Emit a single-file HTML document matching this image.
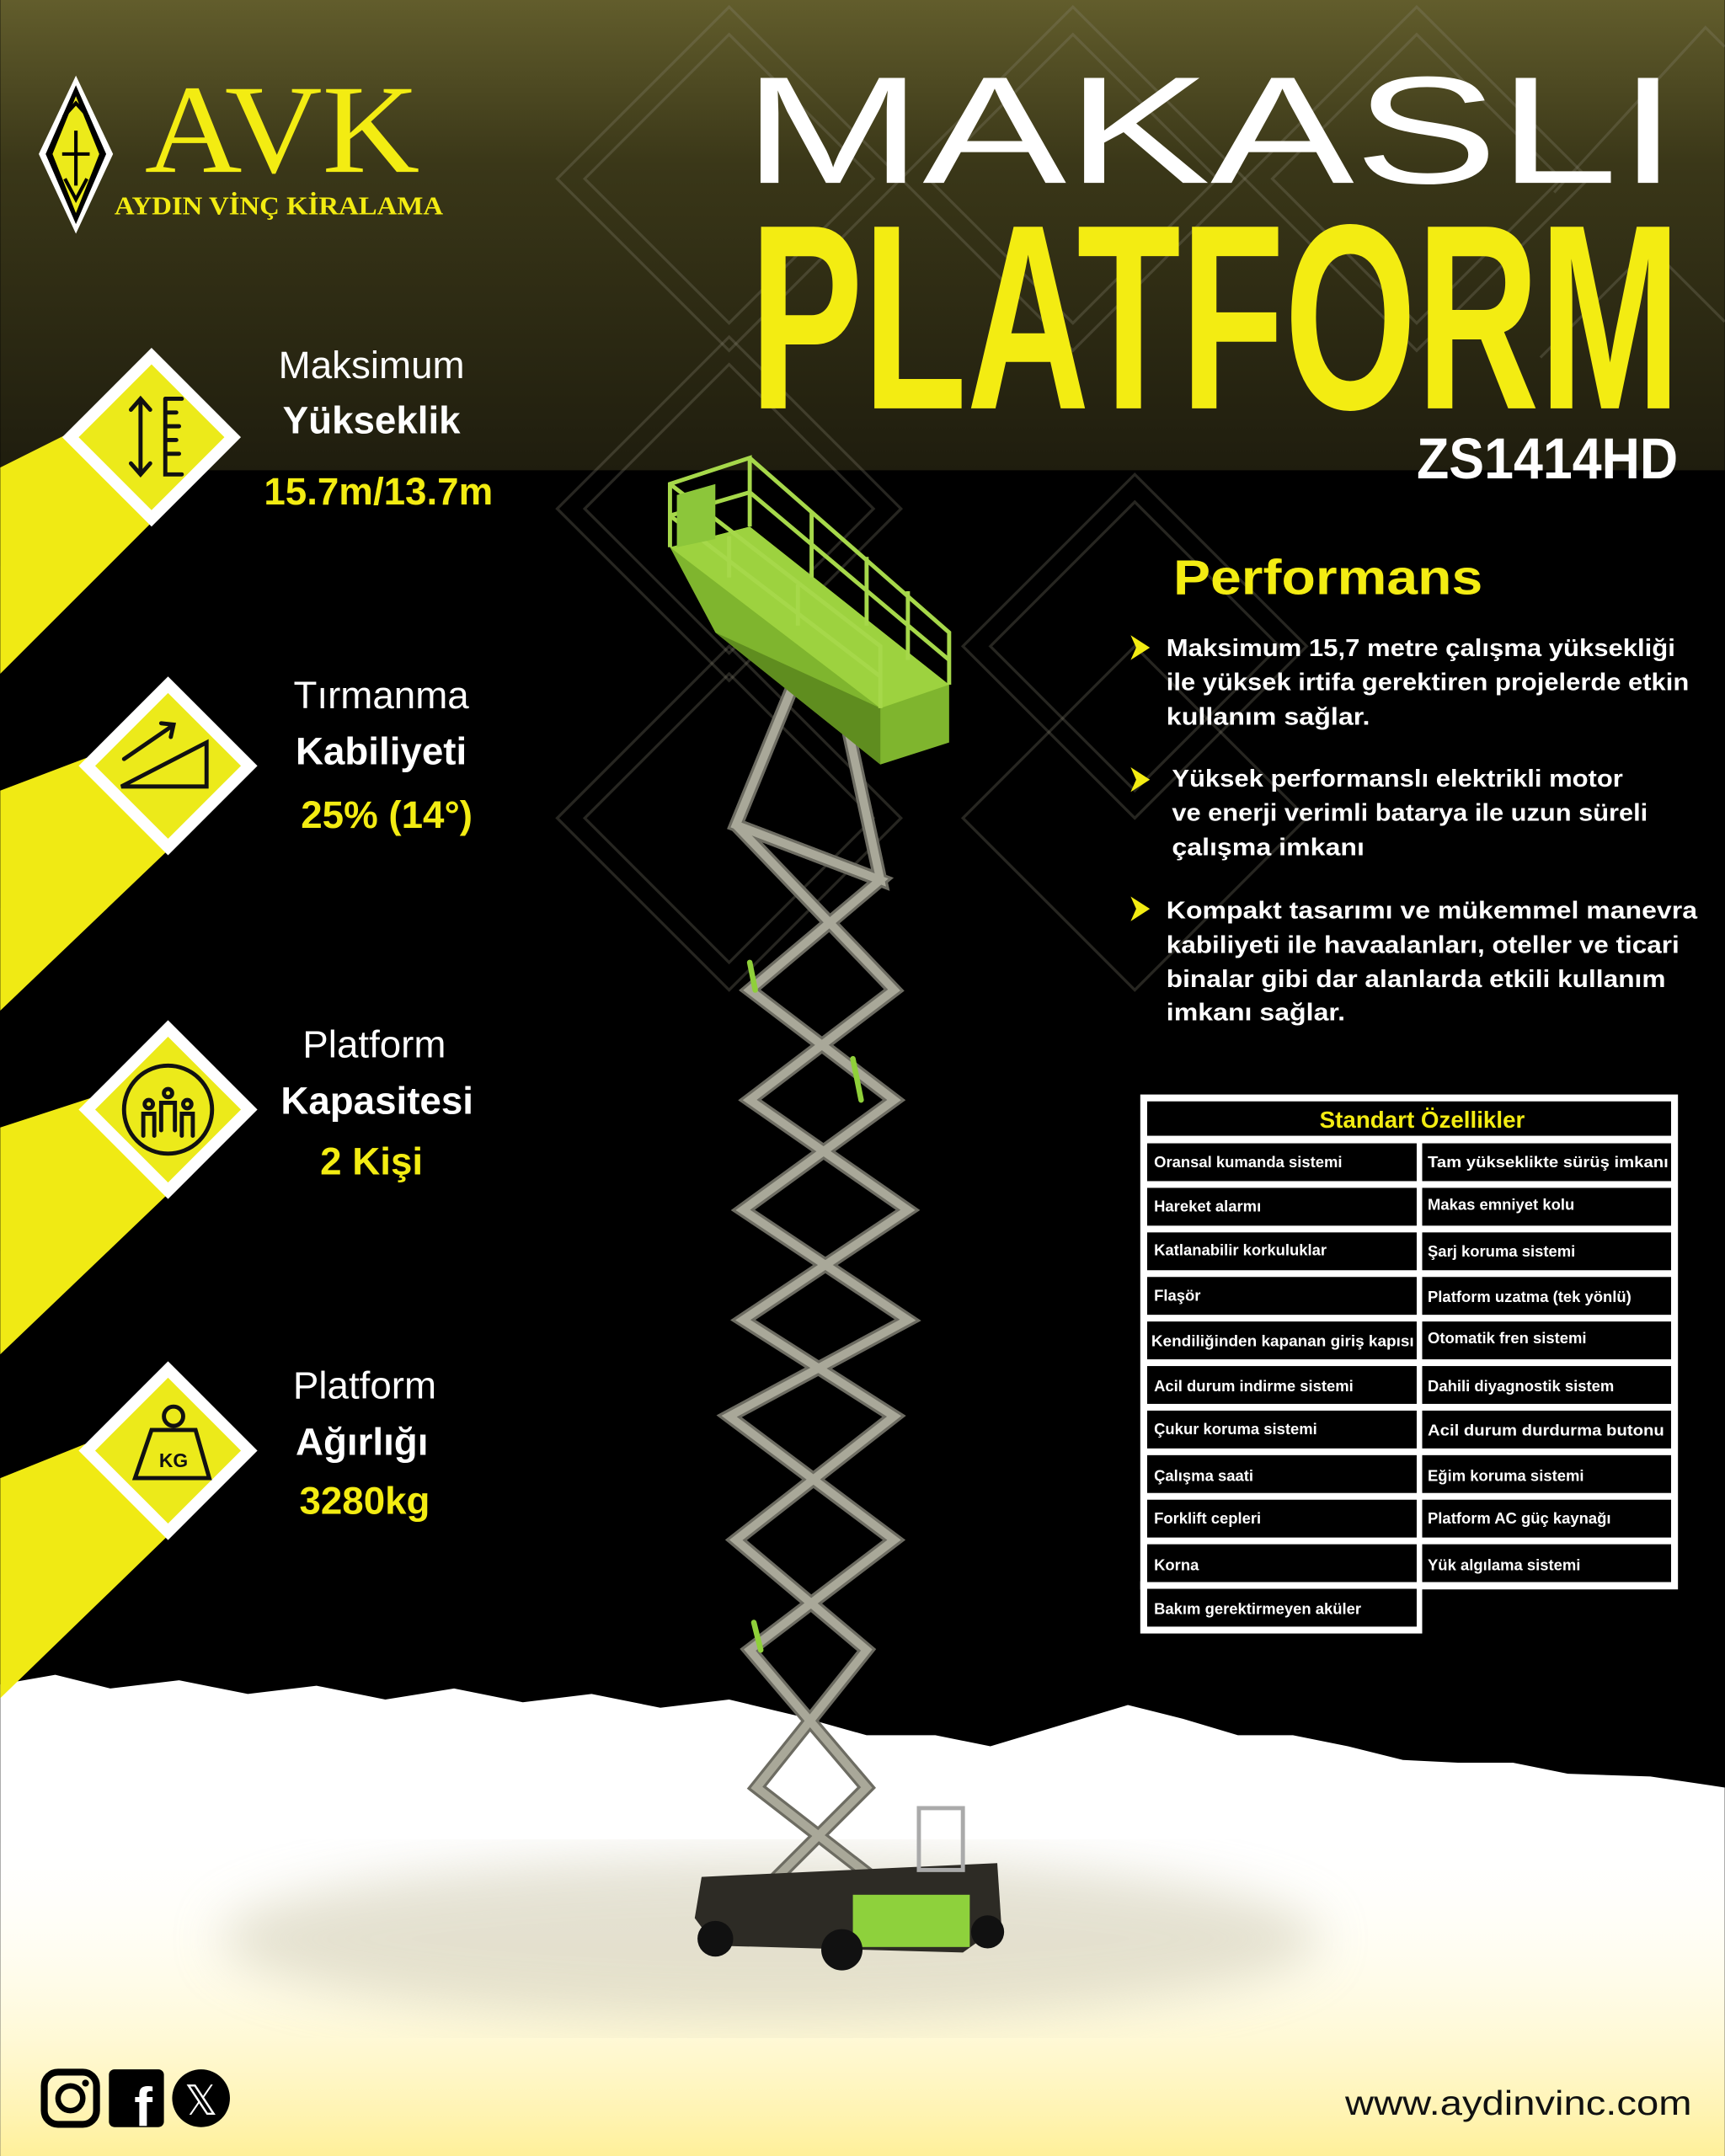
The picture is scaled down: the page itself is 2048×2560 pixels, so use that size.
<!DOCTYPE html>
<html><head><meta charset="utf-8"><style>
html,body{margin:0;padding:0;background:#000;}
svg{display:block;}
text{font-family:"Liberation Sans","DejaVu Sans",sans-serif;}
.w{fill:#fff;}
.y{fill:#f3ec12;}
.b{font-weight:bold;}
.c{fill:#fff;font-weight:bold;font-size:11.3px;}
</style></head><body>
<svg width="2048" height="2560" viewBox="0 0 1254 1568" xmlns="http://www.w3.org/2000/svg">
<defs>
<linearGradient id="top" x1="0" y1="0" x2="0" y2="1">
<stop offset="0" stop-color="#625d2c"/><stop offset="0.35" stop-color="#3a3718"/><stop offset="1" stop-color="#1f1d0e"/></linearGradient>
<linearGradient id="bot" x1="0" y1="0" x2="0" y2="1">
<stop offset="0" stop-color="#fff" stop-opacity="0"/><stop offset="1" stop-color="#fff09a"/></linearGradient>
<filter id="bl"><feGaussianBlur stdDeviation="18"/></filter>
</defs>
<rect width="1254" height="1568" fill="#000"/>
<rect width="1254" height="342" fill="url(#top)"/>
<g fill="none" stroke="#8c8a78" stroke-opacity="0.28" stroke-width="2">
<path d="M405 130 L530 5 L655 130 L530 255Z M425 130 L530 25 L635 130 L530 235Z"/>
<path d="M655 130 L780 5 L905 130 L780 255Z M675 130 L780 25 L885 130 L780 235Z"/>
<path d="M905 130 L1030 5 L1155 130 L1030 255Z M925 130 L1030 25 L1135 130 L1030 235Z"/>
<path d="M1130 140 L1240 20 L1254 34"/>
<path d="M405 370 L530 245 L655 370 L530 495Z M425 370 L530 265 L635 370 L530 475Z"/>
<path d="M700 470 L825 345 L950 470 L825 595Z M720 470 L825 365 L930 470 L825 575Z"/>
<path d="M405 595 L530 470 L655 595 L530 720Z M425 595 L530 490 L635 595 L530 700Z"/>
<path d="M700 595 L825 470 L950 595 L825 720Z"/>
<path d="M1120 260 L1200 180 L1254 234"/>
</g>
<path d="M0 1225 L40 1218 L80 1228 L130 1222 L180 1232 L230 1226 L280 1236 L330 1228 L380 1238 L430 1232 L480 1242 L530 1236 L580 1248 L630 1262 L680 1262 L720 1270 L770 1255 L820 1240 L860 1250 L900 1262 L940 1262 L980 1270 L1020 1280 L1060 1282 L1100 1282 L1140 1290 L1200 1292 L1254 1300 L1254 1568 L0 1568Z" fill="#fff"/>
<rect x="0" y="1330" width="1254" height="238" fill="url(#bot)"/>
<ellipse cx="560" cy="1410" rx="400" ry="60" fill="#cfcab2" opacity="0.55" filter="url(#bl)"/>
<g fill="#f0ea14">
<polygon points="0,340 80,300 150,340 0,490"/>
<polygon points="0,575 92,540 162,580 0,735"/>
<polygon points="0,820 92,790 162,830 0,985"/>
<polygon points="0,1075 92,1038 162,1078 0,1235"/>
</g>
<g>
<polygon points="110,253 175,318 110,383 45,318" fill="#fff"/>
<polygon points="110,265 163,318 110,371 57,318" fill="#ecea1a"/>
<polygon points="122,492 187,557 122,622 57,557" fill="#fff"/>
<polygon points="122,504 175,557 122,610 69,557" fill="#ecea1a"/>
<polygon points="122,742 187,807 122,872 57,807" fill="#fff"/>
<polygon points="122,754 175,807 122,860 69,807" fill="#ecea1a"/>
<polygon points="122,990 187,1055 122,1120 57,1055" fill="#fff"/>
<polygon points="122,1002 175,1055 122,1108 69,1055" fill="#ecea1a"/>
</g>
<g stroke="#111" stroke-width="3" fill="none" stroke-linecap="round">
<path d="M102 290 V345 M95 298 L102 290 L109 298 M95 337 L102 345 L109 337"/>
<path d="M120 290 V345 H132 M120 290 H132 M120 300 H128 M120 310 H130 M120 320 H128 M120 330 H130"/>
<path d="M88 572 L150 540 L150 572 Z M90 552 L125 528 M117 526 L126 527 L124 536"/>
<circle cx="122" cy="807" r="32"/>
<path d="M104 826 v-16 h8 v16 M117 822 v-20 h10 v20 M132 826 v-16 h8 v16"/>
<circle cx="108" cy="803" r="3"/><circle cx="122" cy="795" r="3"/><circle cx="136" cy="803" r="3"/>
<circle cx="126" cy="1030" r="7"/>
<path d="M110 1040 H142 L152 1075 H98 Z"/>
</g>
<text x="126" y="1067" font-size="14" font-weight="bold" fill="#111" text-anchor="middle">KG</text>
<g text-anchor="middle" font-size="28">
<text x="270" y="275" class="w">Maksimum</text>
<text x="270" y="315" class="w b">Yükseklik</text>
<text x="275" y="367" class="y b">15.7m/13.7m</text>
<text x="277" y="515" class="w">Tırmanma</text>
<text x="277" y="556" class="w b">Kabiliyeti</text>
<text x="281" y="602" class="y b">25% (14°)</text>
<text x="272" y="769" class="w">Platform</text>
<text x="274" y="810" class="w b">Kapasitesi</text>
<text x="270" y="854" class="y b">2 Kişi</text>
<text x="265" y="1017" class="w">Platform</text>
<text x="263" y="1058" class="w b">Ağırlığı</text>
<text x="265" y="1101" class="y b">3280kg</text>
</g>
<polygon points="55,55 82,112 55,170 28,112" fill="#fff"/>
<polygon points="55,62 77,112 55,163 33,112" fill="#000"/>
<polygon points="55,70 72,112 55,155 38,112" fill="#ecea1a"/>
<path d="M46 85 L55 75 L64 85 M45 112 H65 M47 130 L55 145 L63 130 M55 95 V135" stroke="#000" stroke-width="2.5" fill="none"/>
<text x="105" y="125" style="font-family:'Liberation Serif',serif" font-size="92" fill="#f3ec12" textLength="200" lengthAdjust="spacingAndGlyphs">AVK</text>
<text x="83" y="156" style="font-family:'Liberation Serif',serif" font-size="19" font-weight="bold" fill="#f3ec12" textLength="239" lengthAdjust="spacingAndGlyphs">AYDIN VİNÇ KİRALAMA</text>
<text x="540" y="133" font-size="111" class="w" textLength="680" lengthAdjust="spacingAndGlyphs">MAKASLI</text>
<text x="545" y="297" font-size="192" class="y b" textLength="677" lengthAdjust="spacingAndGlyphs">PLATFORM</text>
<text x="1030" y="348" font-size="42" class="w b" textLength="190" lengthAdjust="spacingAndGlyphs">ZS1414HD</text>
<g stroke-linecap="round" fill="none">
<g stroke="#6d6c62" stroke-width="10">
<polyline points="580,490 535,600 640,640 545,720 650,800 540,880 660,960 530,1030 650,1120 545,1200 630,1300 560,1370"/>
<polyline points="610,500 640,640 535,600 650,720 545,800 660,880 540,960 650,1030 535,1120 630,1200 550,1300 640,1370"/>
</g>
<g stroke="#a9a899" stroke-width="6">
<polyline points="580,490 535,600 640,640 545,720 650,800 540,880 660,960 530,1030 650,1120 545,1200 630,1300 560,1370"/>
<polyline points="610,500 640,640 535,600 650,720 545,800 660,880 540,960 650,1030 535,1120 630,1200 550,1300 640,1370"/>
</g>
<g stroke="#8fd03a" stroke-width="4">
<path d="M545 700 l4 20 M620 770 l6 30 M548 1180 l5 20"/>
</g>
</g>
<polygon points="487,398 545,383 690,498 690,540 640,556 520,460" fill="#7fb52e"/>
<polygon points="487,398 545,383 690,498 640,515" fill="#9dd23f"/>
<polygon points="520,460 640,515 640,556" fill="#5f8d1f"/>
<g stroke="#a6d84a" stroke-width="3" fill="none">
<polyline points="487,398 487,352 545,333 545,383"/>
<polyline points="545,333 690,460 690,498"/>
<polyline points="487,352 640,470 640,515"/>
<path d="M487 375 L545 358 L690 480 M487 375 L640 492 M590 372 V420 M630 405 V455 M660 430 V480 M530 390 V420 M580 425 V455"/>
</g>
<polygon points="492,360 520,352 520,392 492,398" fill="#8cc63a"/>
<polygon points="510,1365 725,1355 728,1400 700,1420 520,1415 505,1395" fill="#2d2b25"/>
<rect x="620" y="1378" width="85" height="38" fill="#8ed13c"/>
<rect x="668" y="1315" width="32" height="45" fill="none" stroke="#aaa" stroke-width="3"/>
<circle cx="520" cy="1410" r="13" fill="#111"/><circle cx="612" cy="1418" r="15" fill="#111"/><circle cx="718" cy="1405" r="12" fill="#111"/>
<text x="853" y="432" font-size="36" class="y b" textLength="225" lengthAdjust="spacingAndGlyphs">Performans</text>
<g fill="#f3ec12">
<polygon points="822,462 836,471 822,480 826,471"/>
<polygon points="822,558 836,567 822,576 826,567"/>
<polygon points="822,652 836,661 822,670 826,661"/>
</g>
<g font-size="17.5" class="w b">
<text x="848" y="477" textLength="370" lengthAdjust="spacingAndGlyphs">Maksimum 15,7 metre çalışma yüksekliği</text>
<text x="848" y="502" textLength="380" lengthAdjust="spacingAndGlyphs">ile yüksek irtifa gerektiren projelerde etkin</text>
<text x="848" y="527" textLength="148" lengthAdjust="spacingAndGlyphs">kullanım sağlar.</text>
<text x="852" y="572" textLength="328" lengthAdjust="spacingAndGlyphs">Yüksek performanslı elektrikli motor</text>
<text x="852" y="597" textLength="346" lengthAdjust="spacingAndGlyphs">ve enerji verimli batarya ile uzun süreli</text>
<text x="852" y="622" textLength="140" lengthAdjust="spacingAndGlyphs">çalışma imkanı</text>
<text x="848" y="668" textLength="386" lengthAdjust="spacingAndGlyphs">Kompakt tasarımı ve mükemmel manevra</text>
<text x="848" y="693" textLength="373" lengthAdjust="spacingAndGlyphs">kabiliyeti ile havaalanları, oteller ve ticari</text>
<text x="848" y="718" textLength="363" lengthAdjust="spacingAndGlyphs">binalar gibi dar alanlarda etkili kullanım</text>
<text x="848" y="742" textLength="130" lengthAdjust="spacingAndGlyphs">imkanı sağlar.</text>
</g>
<rect x="829" y="796" width="391" height="360" fill="#fff"/>
<rect x="829" y="1150" width="205" height="38" fill="#fff"/>
<rect x="834" y="801" width="381" height="25" fill="#000"/>
<text x="1034" y="820" font-size="17" class="y b" text-anchor="middle">Standart Özellikler</text>
<g fill="#000">
<rect x="834" y="831.5" width="196" height="27.5"/><rect x="1034" y="831.5" width="181" height="27.5"/>
<rect x="834" y="863.9" width="196" height="27.5"/><rect x="1034" y="863.9" width="181" height="27.5"/>
<rect x="834" y="896.3" width="196" height="27.5"/><rect x="1034" y="896.3" width="181" height="27.5"/>
<rect x="834" y="928.7" width="196" height="27.5"/><rect x="1034" y="928.7" width="181" height="27.5"/>
<rect x="834" y="961.1" width="196" height="27.5"/><rect x="1034" y="961.1" width="181" height="27.5"/>
<rect x="834" y="993.5" width="196" height="27.5"/><rect x="1034" y="993.5" width="181" height="27.5"/>
<rect x="834" y="1025.9" width="196" height="27.5"/><rect x="1034" y="1025.9" width="181" height="27.5"/>
<rect x="834" y="1058.3" width="196" height="27.5"/><rect x="1034" y="1058.3" width="181" height="27.5"/>
<rect x="834" y="1090.7" width="196" height="27.5"/><rect x="1034" y="1090.7" width="181" height="27.5"/>
<rect x="834" y="1123.1" width="196" height="27.5"/><rect x="1034" y="1123.1" width="181" height="27.5"/>
<rect x="834" y="1155.5" width="196" height="27.5"/>
</g>
<rect x="1034" y="1156" width="220" height="40" fill="#000"/>
<g class="c">
<text x="839" y="849">Oransal kumanda sistemi</text><text x="1038" y="849" textLength="175" lengthAdjust="spacingAndGlyphs">Tam yükseklikte sürüş imkanı</text>
<text x="839" y="881">Hareket alarmı</text><text x="1038" y="880">Makas emniyet kolu</text>
<text x="839" y="913">Katlanabilir korkuluklar</text><text x="1038" y="914">Şarj koruma sistemi</text>
<text x="839" y="946">Flaşör</text><text x="1038" y="947">Platform uzatma (tek yönlü)</text>
<text x="837" y="979" textLength="191" lengthAdjust="spacingAndGlyphs">Kendiliğinden kapanan giriş kapısı</text><text x="1038" y="977">Otomatik fren sistemi</text>
<text x="839" y="1012">Acil durum indirme sistemi</text><text x="1038" y="1012">Dahili diyagnostik sistem</text>
<text x="839" y="1043">Çukur koruma sistemi</text><text x="1038" y="1044" textLength="172" lengthAdjust="spacingAndGlyphs">Acil durum durdurma butonu</text>
<text x="839" y="1077">Çalışma saati</text><text x="1038" y="1077">Eğim koruma sistemi</text>
<text x="839" y="1108">Forklift cepleri</text><text x="1038" y="1108">Platform AC güç kaynağı</text>
<text x="839" y="1142">Korna</text><text x="1038" y="1142">Yük algılama sistemi</text>
<text x="839" y="1174">Bakım gerektirmeyen aküler</text>
</g>
<rect x="32" y="1507" width="38" height="38" rx="10" fill="none" stroke="#000" stroke-width="5"/>
<circle cx="51" cy="1526" r="9" fill="none" stroke="#000" stroke-width="4"/>
<circle cx="62" cy="1515" r="2.5" fill="#000"/>
<rect x="79" y="1505" width="40" height="42" rx="4" fill="#000"/>
<text x="104" y="1546" font-size="40" font-weight="bold" fill="#fff" text-anchor="middle">f</text>
<circle cx="146" cy="1526" r="21" fill="#000"/>
<text x="146" y="1538" font-size="30" fill="#fff" text-anchor="middle">𝕏</text>
<text x="978" y="1538" font-size="25" fill="#111" textLength="252" lengthAdjust="spacingAndGlyphs">www.aydinvinc.com</text>
</svg>
</body></html>
